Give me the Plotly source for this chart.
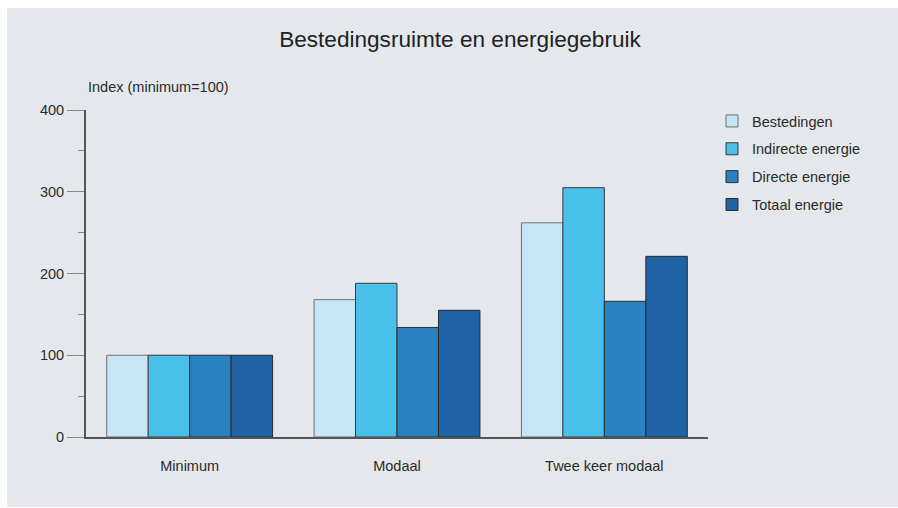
import plotly.graph_objects as go

categories = ["Minimum", "Modaal", "Twee keer modaal"]
series_names = ["Bestedingen", "Indirecte energie", "Directe energie", "Totaal energie"]
bestedingen = [100, 168, 262]
indirecte = [100, 188, 305]
directe = [100, 134, 166]
totaal = [100, 155, 221]
values = [bestedingen, indirecte, directe, totaal]
colors = ["#c6e6f6", "#49c0ea", "#2a81bf", "#1f62a6"]
outlines = ["#707070", "#3a3a3a", "#2f2f2f", "#2a2a2a"]

W, H = 898, 508
L, R, T, B = 86, 190, 110, 71
pw, ph = W - L - R, H - T - B
FS = 14.5

fig = go.Figure()
for i, (name, vals) in enumerate(zip(series_names, values)):
    fig.add_trace(go.Bar(
        x=categories, y=vals, name=name,
        marker=dict(color=colors[i], line=dict(color=outlines[i], width=1)),
        legendgroup=name,
    ))

# grey panel with white strip at top/left
fig.add_shape(type="rect", xref="paper", yref="paper", layer="below",
              x0=(7 - L) / pw, x1=(W - L) / pw,
              y0=(B - 1) / ph * -1, y1=1 + (T - 8) / ph,
              fillcolor="#e4e8ec", line=dict(width=0))

fig.update_layout(
    width=W, height=H,
    margin=dict(l=L, r=R, t=T, b=B),
    paper_bgcolor="white", plot_bgcolor="rgba(0,0,0,0)",
    font=dict(family="Liberation Sans, Arial, sans-serif", size=FS, color="#2a2a2a"),
    title=dict(text="Bestedingsruimte en energiegebruik", x=460 / W, xref="container",
               xanchor="center", y=1 - 39 / H, yref="container", yanchor="middle",
               font=dict(size=22.6, color="#222")),
    barmode="group", bargap=0.2, bargroupgap=0,
    showlegend=True,
    legend=dict(x=(712 - L) / pw, xanchor="left", y=1 + 5 / ph, yanchor="top",
                bgcolor="rgba(0,0,0,0)", tracegroupgap=6, traceorder="grouped",
                font=dict(size=FS, color="#2a2a2a")),
    xaxis=dict(showline=True, linecolor="#555", linewidth=2, ticks="",
               ticklabelstandoff=15, showgrid=False, zeroline=False,
               range=[-0.5, 2.5], tickfont=dict(size=FS)),
    yaxis=dict(range=[0, 400], tickvals=[0, 100, 200, 300, 400], showline=True,
               linecolor="#555", linewidth=2, ticks="outside", ticklen=17,
               tickcolor="#8a8a8a", tickwidth=1, showgrid=False, zeroline=False,
               ticklabelstandoff=0,
               minor=dict(tickvals=[50, 150, 250, 350], ticks="outside", ticklen=6,
                          tickcolor="#8a8a8a", showgrid=False),
               tickfont=dict(size=FS)),
    annotations=[dict(text="Index (minimum=100)", xref="paper", yref="paper",
                      x=0, y=1 + (110 - 87) / ph, xanchor="left", yanchor="middle",
                      showarrow=False, font=dict(size=FS, color="#2a2a2a"))],
)
fig.write_html("out.html")
